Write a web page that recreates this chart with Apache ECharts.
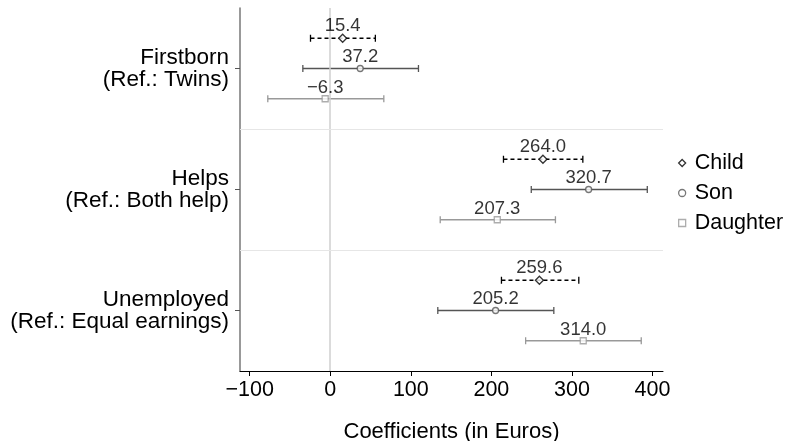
<!DOCTYPE html>
<html><head><meta charset="utf-8">
<script src="https://cdn.jsdelivr.net/npm/echarts@6/dist/echarts.min.js"></script>
<style>html,body{margin:0;padding:0;background:#fff}#c{width:790px;height:441px}</style>
</head><body><div id="c"></div>
<script>
const categories = ['Firstborn\n(Ref.: Twins)', 'Helps\n(Ref.: Both help)', 'Unemployed\n(Ref.: Equal earnings)'];
const childEst = [15.4, 264.0, 259.6];
const childLo = [-24.5, 215, 212.5];
const childHi = [56, 313.5, 308.5];
const sonEst = [37.2, 320.7, 205.2];
const sonLo = [-34, 249.5, 133.5];
const sonHi = [109.5, 393.5, 277.5];
const daughterEst = [-6.3, 207.3, 314.0];
const daughterLo = [-77.5, 136.5, 242.5];
const daughterHi = [66.5, 279.5, 386];
const xTicks = [-100, 0, 100, 200, 300, 400];
const groups = [
  {name:'Child', est:childEst, lo:childLo, hi:childHi, off:-1, color:'#000', symbol:'diamond', size:8, dash:[4,3]},
  {name:'Son', est:sonEst, lo:sonLo, hi:sonHi, off:0, color:'#555', symbol:'circle', size:6, dash:'solid'},
  {name:'Daughter', est:daughterEst, lo:daughterLo, hi:daughterHi, off:1, color:'#999', symbol:'rect', size:6, dash:'solid'}
];
const FONT = 'Liberation Sans, Arial, sans-serif';
const fmt = v => String(v).replace('-', '\u2212');
const series = [];
groups.forEach(g => {
  series.push({
    type:'custom', name:g.name+'_ci', silent:true, z:2,
    data: categories.map((c,i)=>[g.lo[i], g.hi[i], i*4+2+g.off]),
    renderItem: (params, api) => {
      const a = api.coord([api.value(0), api.value(2)]);
      const b = api.coord([api.value(1), api.value(2)]);
      const st = {stroke:g.color, lineWidth:1.3, lineDash:g.dash};
      return {type:'group', children:[
        {type:'line', shape:{x1:a[0],y1:a[1],x2:b[0],y2:b[1]}, style:st},
        {type:'line', shape:{x1:a[0],y1:a[1]-3.5,x2:a[0],y2:a[1]+3.5}, style:{stroke:g.color,lineWidth:1.3}},
        {type:'line', shape:{x1:b[0],y1:b[1]-3.5,x2:b[0],y2:b[1]+3.5}, style:{stroke:g.color,lineWidth:1.3}}
      ]};
    }
  });
  series.push({
    type:'scatter', name:g.name, z:5, symbol:g.symbol, symbolSize:g.size,
    itemStyle:{color:'#fff', borderColor:g.color, borderWidth:1.3},
    label:{show:true, position:'top', distance:-2, color:'#000', fontSize:18.5, fontFamily:FONT,
      formatter: p => fmt(p.value[0].toFixed(1))},
    data: categories.map((c,i)=>[g.est[i], i*4+2+g.off])
  });
});
series.push({
  type:'scatter', name:'ref', data:[], silent:true,
  markLine:{silent:true, symbol:'none', label:{show:false}, animation:false,
    data:[
      {xAxis:0, lineStyle:{color:'#cfcfcf', width:1.5, type:'solid'}},
      {yAxis:4, lineStyle:{color:'#e6e6e6', width:1, type:'solid'}},
      {yAxis:8, lineStyle:{color:'#e6e6e6', width:1, type:'solid'}}
    ]}
});
const chart = echarts.init(document.getElementById('c'), null, {renderer:'canvas'});
chart.setOption({
  animation:false,
  grid:{left:240, right:127, top:8, bottom:70, containLabel:false, outerBoundsMode:'none'},
  legend:{
    orient:'vertical', left:673, top:147, itemWidth:7, itemHeight:7, itemGap:8,
    textStyle:{fontSize:21.5, fontFamily:FONT, color:'#000', padding:[0,0,0,4]},
    data: groups.map(g=>({name:g.name, icon:g.symbol, itemStyle:{color:'#fff', borderColor:g.color, borderWidth:1.3}}))
  },
  xAxis:{
    type:'value', min:-112, max:413,
    name:'Coefficients (in Euros)', nameLocation:'middle', nameGap:50,
    nameTextStyle:{fontSize:22, fontFamily:FONT, color:'#000'},
    axisLine:{show:true, onZero:false, lineStyle:{color:'#000', width:1}},
    axisTick:{show:true, length:5, customValues:xTicks, lineStyle:{color:'#000'}},
    axisLabel:{customValues:xTicks, fontSize:21.5, fontFamily:FONT, color:'#000', margin:8, formatter: v=>fmt(v)},
    splitLine:{show:false}
  },
  yAxis:{
    type:'value', min:0, max:12, inverse:true,
    axisLine:{show:true, onZero:false, lineStyle:{color:'#777', width:1.5}},
    axisTick:{show:true, length:5, customValues:[2,6,10], lineStyle:{color:'#555'}},
    axisLabel:{customValues:[2,6,10], fontSize:22.5, fontFamily:FONT, color:'#000', margin:11, lineHeight:22,
      formatter: v => categories[Math.round((v-2)/4)]},
    splitLine:{show:false}
  },
  series: series
});
</script></body></html>
